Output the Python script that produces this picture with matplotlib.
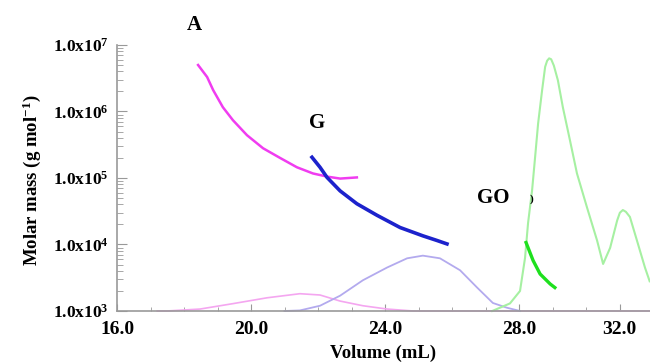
import numpy as np
import matplotlib
matplotlib.use("Agg")
import matplotlib.pyplot as plt

plt.rcParams['font.family'] = ['Liberation Serif', 'DejaVu Serif']
plt.rcParams['font.weight'] = 'bold'
plt.rcParams['mathtext.fontset'] = 'custom'
plt.rcParams['mathtext.rm'] = 'Liberation Serif:bold'
plt.rcParams['mathtext.it'] = 'Liberation Serif:bold'
plt.rcParams['mathtext.bf'] = 'Liberation Serif:bold'

# courbes de masse molaire (g/mol) en fonction du volume d'elution (mL)
vol_A = [18.42, 18.69, 18.87, 19.16, 19.46, 19.88, 20.36, 20.87, 21.37, 21.85, 22.27, 22.66, 23.16]
mm_A = [5.0e6, 3.3e6, 2.1e6, 1.16e6, 7.4e5, 4.4e5, 2.8e5, 2.0e5, 1.45e5, 1.17e5, 1.05e5, 9.8e4, 1.02e5]

vol_G = [21.82, 22.06, 22.27, 22.66, 23.16, 23.76, 24.45, 25.13, 25.55, 25.85]
mm_G = [2.05e5, 1.45e5, 1.02e5, 6.4e4, 4.1e4, 2.75e4, 1.8e4, 1.35e4, 1.15e4, 1.02e4]

vol_GO = [28.21, 28.42, 28.63, 28.93, 29.07]
mm_GO = [1.07e4, 5.75e3, 3.6e3, 2.55e3, 2.25e3]

# signaux des detecteurs (tracés sur la meme echelle)
vol_sig_A = [17.2, 17.49, 18.48, 19.46, 20.48, 21.46, 22.06, 22.66, 23.34, 24.06, 24.84, 26.0, 28.0, 31.9]
sig_A = [1.0e3, 1.0e3, 1.07e3, 1.29e3, 1.58e3, 1.82e3, 1.74e3, 1.41e3, 1.2e3, 1.07e3, 1.0e3, 1.0e3, 1.0e3, 1.0e3]

vol_sig_G = [21.0, 21.46, 22.06, 22.66, 23.34, 24.06, 24.66, 25.13, 25.64, 26.24, 26.75, 27.22, 27.64, 28.03]
sig_G = [1.0e3, 1.02e3, 1.2e3, 1.7e3, 2.9e3, 4.5e3, 6.2e3, 6.8e3, 6.2e3, 4.1e3, 2.25e3, 1.32e3, 1.12e3, 1.0e3]

vol_sig_GO = [27.2, 27.43, 27.73, 28.03, 28.18, 28.27, 28.39, 28.48, 28.57, 28.69, 28.78, 28.84, 28.90, 28.96,
              29.04, 29.16, 29.31, 29.52, 29.73, 30.03, 30.33, 30.51, 30.72, 30.93, 31.01, 31.10, 31.19,
              31.31, 31.52, 31.76, 31.9]
sig_GO = [1.0e3, 1.12e3, 1.3e3, 2.0e3, 6.3e3, 2.1e4, 6.5e4, 2.05e5, 6.6e5, 2.1e6, 4.7e6, 5.8e6, 6.3e6, 6.1e6,
          4.9e6, 2.95e6, 1.15e6, 3.7e5, 1.17e5, 3.6e4, 1.15e4, 5.1e3, 8.9e3, 2.3e4, 3.0e4, 3.3e4, 3.1e4,
          2.6e4, 1.15e4, 4.5e3, 2.8e3]

x_ticks = [16, 20, 24, 28, 31]
x_labels = ['16.0', '20.0', '24.0', '28.0', '32.0']
y_ticks = [1e3, 1e4, 1e5, 1e6, 1e7]
y_labels = [r'1.0x10$^{3}$', r'1.0x10$^{4}$', r'1.0x10$^{5}$', r'1.0x10$^{6}$', r'1.0x10$^{7}$']

fig = plt.figure(figsize=(6.5, 3.64), dpi=100)
ax = fig.add_axes([0.18, 0.1456, 0.82, 0.7308])

ax.plot(vol_sig_A, sig_A, color='#f4a6f0', lw=1.2, clip_on=False)
ax.plot(vol_sig_G, sig_G, color='#b3aaee', lw=1.3, clip_on=False)
ax.plot(vol_sig_GO, sig_GO, color='#a6f0a2', lw=1.5, clip_on=False)
ax.plot(vol_A, mm_A, color='#f03cf0', lw=1.8)
ax.plot(vol_G, mm_G, color='#1c22cc', lw=2.6)
ax.plot(vol_GO, mm_GO, color='#1ee01e', lw=2.4)

ax.set_yscale('log')
ax.set_xlim(16, 31.91)
ax.set_ylim(1e3, 1e7)

ax.set_xticks(x_ticks)
ax.set_xticklabels(x_labels, fontsize=14, fontweight='bold')
ax.set_xticks(np.arange(17, 32, 1), minor=True)
ax.set_yticks(y_ticks)
ax.set_yticklabels(y_labels, fontsize=12.5)

ax.tick_params(axis='both', which='both', direction='in', color='#999999')
ax.tick_params(axis='x', which='major', length=5, pad=7)
ax.tick_params(axis='x', which='minor', length=3)
ax.tick_params(axis='y', which='major', length=7, pad=6)
ax.tick_params(axis='y', which='minor', length=4)

for s in ['top', 'right']:
    ax.spines[s].set_visible(False)
for s in ['left', 'bottom']:
    ax.spines[s].set_color('#999999')
    ax.spines[s].set_linewidth(1.2)

ax.set_xlabel('Volume (mL)', fontsize=13.5, fontweight='bold')
ax.xaxis.set_label_coords(0.5, -(353 - 311) / 266, transform=ax.transAxes)
ax.xaxis.label.set_va('center')
ax.set_ylabel('Molar mass (g mol$^{-1}$)', fontsize=13.5, fontweight='bold')
ax.yaxis.set_label_coords(-(117 - 32) / 533, 0.49)
ax.yaxis.label.set_va('center')

fig.text(194 / 650, 1 - 25 / 364, 'A', fontsize=15, fontweight='bold', ha='center', va='center')
fig.text(317 / 650, 1 - 123 / 364, 'G', fontsize=15, fontweight='bold', ha='center', va='center')
fig.text(493 / 650, 1 - 198 / 364, 'GO', fontsize=15, fontweight='bold', ha='center', va='center')
fig.text(531 / 650, 1 - 199 / 364, ')', fontsize=8, fontweight='bold', ha='center', va='center')

plt.savefig('out.png', dpi=100)
